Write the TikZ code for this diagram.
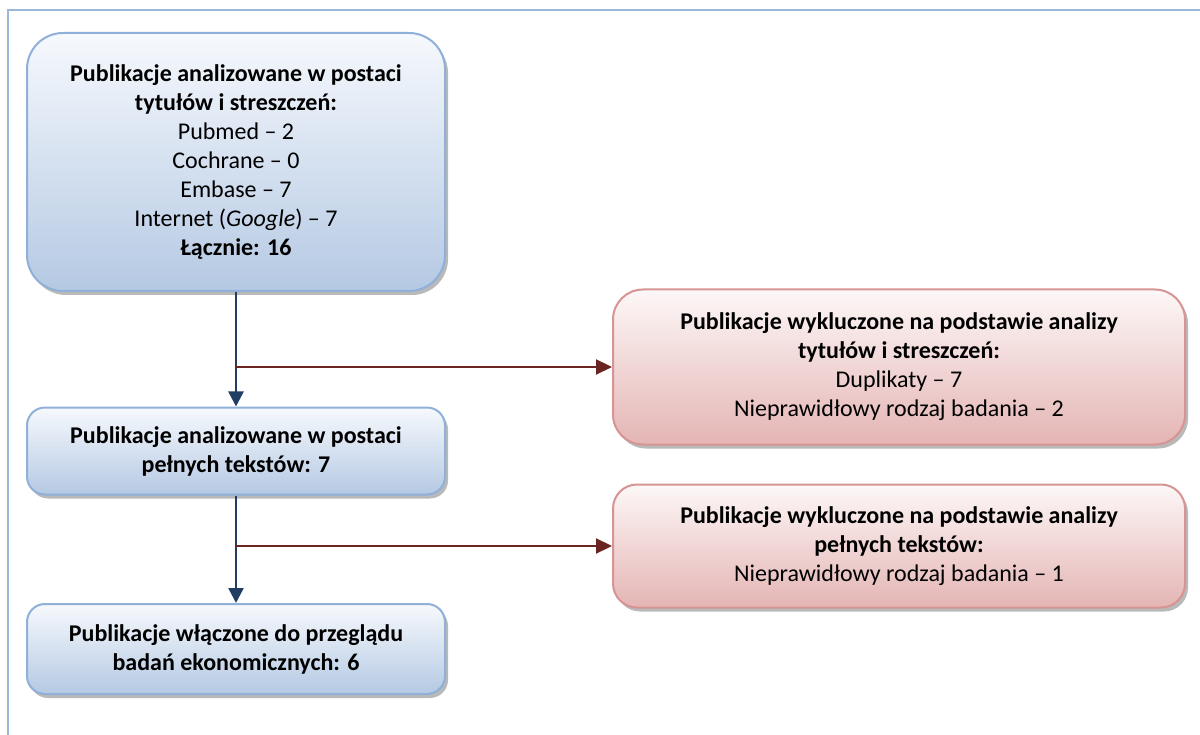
\documentclass[tikz,border=0pt]{standalone}
\usepackage{fontspec}
\setmainfont{Carlito}
\usetikzlibrary{arrows.meta,shadows}

\definecolor{framecol}{HTML}{9BB7DA}
\definecolor{blueedge}{HTML}{8FB0D9}
\definecolor{bluetop}{HTML}{F6F9FD}
\definecolor{bluebot}{HTML}{B5C9E3}
\definecolor{rededge}{HTML}{D69594}
\definecolor{redtop}{HTML}{FDF7F7}
\definecolor{redbot}{HTML}{E4B5B4}
\definecolor{navyarrow}{HTML}{213D63}
\definecolor{maroonarrow}{HTML}{6A2421}

\begin{document}
\begin{tikzpicture}[x=1pt, y=-1pt,
    every node/.style={align=center, font=\fontsize{24}{29}\selectfont},
    bluebox/.style={draw=blueedge, line width=2pt, top color=bluetop, bottom color=bluebot,
        drop shadow={shadow xshift=3pt, shadow yshift=-4pt, fill=black!55}, minimum width=418pt},
    redbox/.style={draw=rededge, line width=2pt, top color=redtop, bottom color=redbot,
        drop shadow={shadow xshift=3pt, shadow yshift=-4pt, fill=black!55}, minimum width=572pt},
    downarrow/.style={draw=navyarrow, line width=2.4pt, -{Triangle[length=15pt, width=15pt]}},
    outarrow/.style={draw=maroonarrow, line width=2.2pt, -{Triangle[length=16pt, width=15pt]}}]
    \useasboundingbox (0,0) rectangle (1200,735);

    % frame
    \draw[framecol, line width=2pt] (8,735) -- (8,10) -- (1200,10);

    % main path (left)
    \node[bluebox, rounded corners=36pt, minimum height=258pt] (titles) at (236,162)
        {\textbf{Publikacje analizowane w postaci}\\ \textbf{tytułów i streszczeń:}\\
         Pubmed -- 2\\ Cochrane -- 0\\ Embase -- 7\\ Internet (\textit{Google}) -- 7\\
         \textbf{Łącznie: 16}};
    \node[bluebox, rounded corners=18pt, minimum height=87pt] (fulltext) at (236,451)
        {\textbf{Publikacje analizowane w postaci}\\ \textbf{pełnych tekstów: 7}};
    \node[bluebox, rounded corners=18pt, minimum height=90pt] (included) at (236,649)
        {\textbf{Publikacje włączone do przeglądu}\\ \textbf{badań ekonomicznych: 6}};

    % exclusions (right)
    \node[redbox, rounded corners=30pt, minimum height=155pt] (excl-titles) at (899,367)
        {\textbf{Publikacje wykluczone na podstawie analizy}\\ \textbf{tytułów i streszczeń:}\\
         Duplikaty -- 7\\ Nieprawidłowy rodzaj badania -- 2};
    \node[redbox, rounded corners=24pt, minimum height=123pt] (excl-full) at (899,546)
        {\textbf{Publikacje wykluczone na podstawie analizy}\\ \textbf{pełnych tekstów:}\\
         Nieprawidłowy rodzaj badania -- 1};

    % connectors
    \coordinate (split-1) at (titles.south |- excl-titles.west);
    \coordinate (split-2) at (fulltext.south |- excl-full.west);
    \draw[downarrow] (titles) -- (fulltext);
    \draw[downarrow] (fulltext) -- (included);
    \draw[outarrow] (split-1) -- (excl-titles);
    \draw[outarrow] (split-2) -- (excl-full);
\end{tikzpicture}
\end{document}
